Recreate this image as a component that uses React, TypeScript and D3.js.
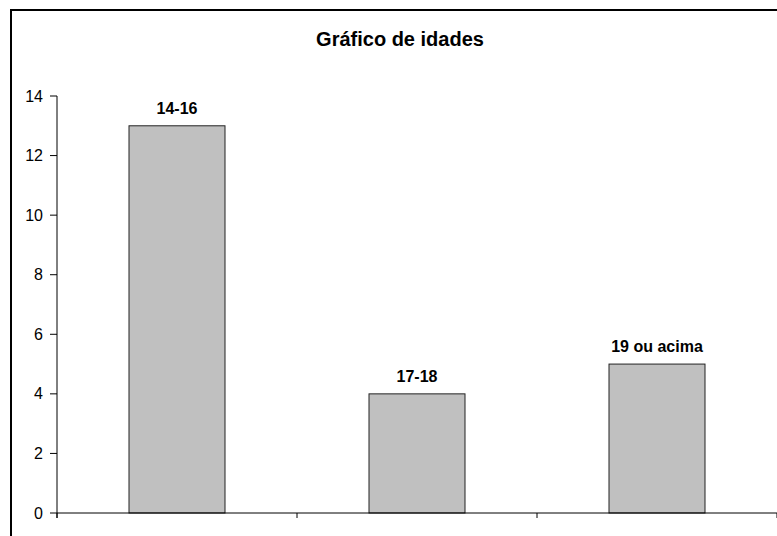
import React from "react";
import * as d3 from "d3";

const categories: string[] = ["14-16", "17-18", "19 ou acima"];
const values: number[] = [13, 4, 5];
const yTicks: number[] = [0, 2, 4, 6, 8, 10, 12, 14];
const title = "Gráfico de idades";

export default function App() {
  const W = 777;
  const H = 536;
  const left = 57;
  const right = 777;
  const top = 96;
  const bottom = 513;

  const x = d3.scaleBand<string>().domain(categories).range([left, right]).padding(0);
  const y = d3.scaleLinear().domain([0, 14]).range([bottom, top]);
  const bw = x.bandwidth() * 0.4;
  const font = "Arial, 'Liberation Sans', Helvetica, sans-serif";

  const xTickPos = [...categories.map((c) => x(c) as number), right];

  return (
    <svg
      width={W}
      height={H}
      style={{ position: "absolute", left: 0, top: 0, background: "#fff" }}
      fontFamily={font}
    >
      <rect x={11} y={10} width={800} height={600} fill="#fff" stroke="#000" strokeWidth={2} />
      <text x={400} y={46} textAnchor="middle" fontSize={20} fontWeight="bold" fill="#000">
        {title}
      </text>
      {/* bars */}
      {categories.map((c, i) => {
        const cx = (x(c) as number) + x.bandwidth() / 2;
        return (
          <g key={c}>
            <rect
              x={cx - bw / 2}
              y={y(values[i])}
              width={bw}
              height={y(0) - y(values[i])}
              fill="#c0c0c0"
              stroke="#222"
              strokeWidth={1}
            />
            <text
              x={cx}
              y={y(values[i]) - 12}
              textAnchor="middle"
              fontSize={16}
              fontWeight="bold"
              fill="#000"
            >
              {c}
            </text>
          </g>
        );
      })}
      {/* y axis */}
      <line x1={left} x2={left} y1={top} y2={bottom + 5} stroke="#000" strokeWidth={1} />
      {yTicks.map((t) => (
        <g key={t}>
          <line x1={left - 7} x2={left} y1={y(t)} y2={y(t)} stroke="#000" strokeWidth={1} />
          <text x={43} y={y(t) + 5.5} textAnchor="end" fontSize={16} fill="#000">
            {t}
          </text>
        </g>
      ))}
      {/* x axis */}
      <line x1={left} x2={right} y1={bottom} y2={bottom} stroke="#000" strokeWidth={1} />
      {xTickPos.map((p, i) => (
        <line key={i} x1={p} x2={p} y1={bottom} y2={bottom + 5} stroke="#000" strokeWidth={1} />
      ))}
    </svg>
  );
}
